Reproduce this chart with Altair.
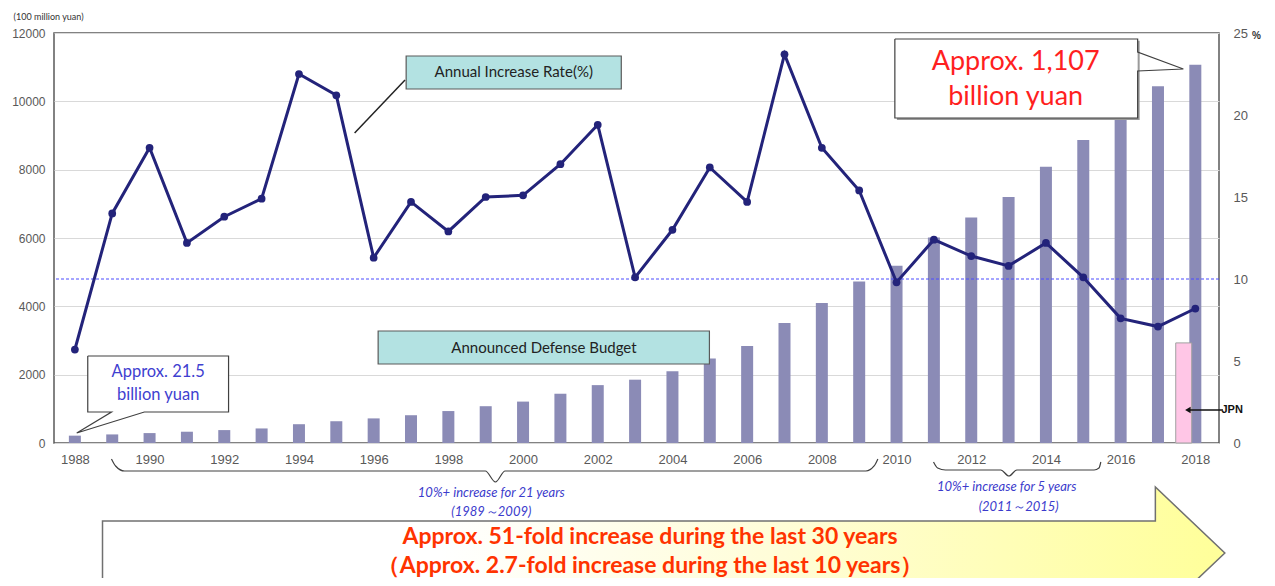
import altair as alt
import pandas as pd

# ---------------- data ----------------
years = list(range(1988, 2019))
budget = [215, 251, 290, 330, 378, 426, 550, 637, 720, 813, 935, 1077, 1212, 1442,
          1694, 1853, 2100, 2475, 2838, 3509, 4099, 4729, 5191, 6011, 6600, 7202,
          8082, 8869, 9544, 10444, 11069]
rate = [5.7, 14.0, 18.0, 12.2, 13.8, 14.9, 22.5, 21.2, 11.3, 14.7, 12.9, 15.0, 15.1,
        17.0, 19.4, 10.1, 13.0, 16.8, 14.7, 23.7, 18.0, 15.4, 9.8, 12.4, 11.4, 10.8,
        12.2, 10.1, 7.6, 7.1, 8.2]
jpn_year = [2017.69]
jpn_budget = [2930]
ref_rate = [10]
x_ticks = list(range(1988, 2019, 2))
left_ticks = [0, 2000, 4000, 6000, 8000, 10000, 12000]
right_ticks = [0, 5, 10, 15, 20, 25]

# ---------------- scales / axes ----------------
xscale = alt.Scale(domain=[1987.575, 2018.5], nice=False, zero=False)
xaxis = alt.Axis(values=x_ticks, format="d", ticks=False, grid=False, domain=False,
                 labelPadding=10, labelFontSize=13, labelColor="#595959",
                 labelFont="Liberation Sans", labelFlush=False, labelOverlap=False)
yLscale = alt.Scale(domain=[0, 12000], nice=False, zero=True)
yLaxis = alt.Axis(values=left_ticks, format="d", ticks=False, domain=False, grid=True,
                  gridColor="#d9d9d9", labelPadding=9, labelFontSize=12,
                  labelColor="#595959", labelFont="Liberation Sans")
yRscale = alt.Scale(domain=[0, 25], nice=False, zero=True)
yRaxis = alt.Axis(values=right_ticks, orient="right", ticks=False, domain=False,
                  grid=False, labelPadding=14, labelFontSize=13,
                  labelColor="#595959", labelFont="Liberation Sans")


def X(f):
    return alt.X(f"{f}:Q", scale=xscale, axis=xaxis, title=None)


def YL(f):
    return alt.Y(f"{f}:Q", scale=yLscale, axis=yLaxis, title=None)


def YR(f):
    return alt.Y(f"{f}:Q", scale=yRscale, axis=yRaxis, title=None)


bars_df = pd.DataFrame({"year": years, "budget": budget})
rate_df = pd.DataFrame({"year": years, "rate": rate})
jpn_df = pd.DataFrame({"year": jpn_year, "budget": jpn_budget})

# ---------------- annotation geometry (data units) ----------------
ANN_FONT = "Lato"

# white callout boxes
callout_rects = pd.DataFrame({
    "x": [1988.345, 2009.955], "x2": [1992.115, 2016.456],
    "y": [2546, 11824], "y2": [907, 9512],
})
shadow_rects = pd.DataFrame({
    "x": [2010.01], "x2": [2016.51], "y": [11770], "y2": [9455],
})
outline_shape = (["small"] * 8) + (["big"] * 8)
outline_x = [1988.345, 1992.115, 1992.115, 1989.86, 1988.05, 1988.98, 1988.345, 1988.345,
             2009.955, 2016.456, 2016.456, 2017.68, 2016.456, 2016.456, 2009.955, 2009.955]
outline_y = [2546, 2546, 907, 907, 293, 907, 907, 2546,
             11824, 11824, 11444, 10946, 10888, 9512, 9512, 11824]
outline_df = pd.DataFrame({"shape": outline_shape, "x": outline_x, "y": outline_y,
                           "ord": list(range(8)) + list(range(8))})

# teal label boxes
teal_df = pd.DataFrame({
    "x": [1996.87, 1996.12], "x2": [2002.63, 2004.99],
    "y": [11327, 3278], "y2": [10361, 2312],
    "tx": [1999.75, 2000.56], "ty": [10844, 2795],
    "label": ["Annual Increase Rate(%)", "Announced Defense Budget"],
})
leader_df = pd.DataFrame({"x": [1996.84], "y": [10624], "x2": [1995.49], "y2": [9073]})

# braces under the x axis
brace_id = ["a"] * 9 + ["b"] * 9
brace_x = [1988.98, 1989.09, 1989.33, 1998.99, 1999.26, 1999.52, 2009.18, 2009.40, 2009.50,
           2010.99, 2011.10, 2011.31, 2012.79, 2013.01, 2013.22, 2015.29, 2015.42, 2015.47]
brace_y = [-468, -673, -820, -820, -1141, -820, -820, -673, -468,
           -556, -732, -790, -790, -966, -790, -790, -732, -556]
brace_df = pd.DataFrame({"id": brace_id, "x": brace_x, "y": brace_y})
brace_text_df = pd.DataFrame({
    "x": [1999.15, 1999.15, 2012.95, 2013.27],
    "y": [-1463, -2020, -1288, -1873],
    "label": ["10%+ increase for 21 years", "(1989\uff5e2009)",
              "10%+ increase for 5 years", "(2011\uff5e2015)"],
})

# big arrow
arrow_area_df = pd.DataFrame({
    "x": [1988.74, 2016.93, 2016.94, 2018.79],
    "y": [-2283, -2283, -1288, -3220],
    "y2": [-4098, -4098, -5151, -3220],
})
arrow_line_df = pd.DataFrame({
    "x": [1988.74, 1988.74, 2016.93, 2016.93, 2018.79, 2016.93, 2016.93, 1988.74],
    "y": [-4098, -2283, -2283, -1288, -3220, -5151, -4098, -4098],
    "ord": list(range(8)),
})
arrow_text_df = pd.DataFrame({
    "x": [2003.40, 2003.40], "y": [-2750, -3600],
    "label": ["Approx. 51-fold increase during the last 30 years",
              "\uff08Approx. 2.7-fold increase during the last 10 years\uff09"],
})

# callout texts
small_text_df = pd.DataFrame({"x": [1990.23, 1990.23], "y": [2078, 1405],
                              "label": ["Approx. 21.5", "billion yuan"]})
big_text_df = pd.DataFrame({"x": [2013.19, 2013.19], "y": [11151, 10127],
                            "label": ["Approx. 1,107", "billion yuan"]})
unit_df = pd.DataFrame({"x": [1986.36], "y": [12468], "label": ["(100 million yuan)"]})
pct_df = pd.DataFrame({"x": [2019.64], "y": [11912], "label": ["%"]})
jpn_arrow_df = pd.DataFrame({"x": [2018.74], "x2": [2017.80], "y": [966]})
jpn_head_df = pd.DataFrame({"x": [2017.80], "y": [966]})
jpn_label_df = pd.DataFrame({"x": [2018.70], "y": [966], "label": ["JPN"]})

# ---------------- layers on the left (budget) scale ----------------
bars = alt.Chart(bars_df).mark_bar(size=12, color="#8b8bb6").encode(
    x=X("year"), y=YL("budget"))
jpn = alt.Chart(jpn_df).mark_bar(size=16, fill="#ffc6e6", stroke="#a0a0a0",
                                 strokeWidth=1).encode(x=X("year"), y=YL("budget"))

shadow = alt.Chart(shadow_rects).mark_rect(fill="#9a9a9a").encode(
    x=X("x"), x2="x2", y=YL("y"), y2="y2")
callout_fill = alt.Chart(callout_rects).mark_rect(fill="white").encode(
    x=X("x"), x2="x2", y=YL("y"), y2="y2")
callout_outline = alt.Chart(outline_df).mark_line(color="#404040", strokeWidth=1.2).encode(
    x=X("x"), y=YL("y"), detail="shape:N", order="ord:Q")

teal_box = alt.Chart(teal_df).mark_rect(fill="#b3e2e2", stroke="#5a5a5a",
                                        strokeWidth=1.2).encode(
    x=X("x"), x2="x2", y=YL("y"), y2="y2")
teal_text = alt.Chart(teal_df).mark_text(font=ANN_FONT, fontSize=15, color="#222222").encode(
    x=X("tx"), y=YL("ty"), text="label:N")
leader = alt.Chart(leader_df).mark_rule(color="#222222", strokeWidth=1.5).encode(
    x=X("x"), x2="x2", y=YL("y"), y2="y2")

braces = alt.Chart(brace_df).mark_line(color="#404040", strokeWidth=1.2,
                                       interpolate="monotone").encode(
    x=X("x"), y=YL("y"), detail="id:N")
brace_text = alt.Chart(brace_text_df).mark_text(font=ANN_FONT, fontSize=13,
                                                fontStyle="italic",
                                                color="#3b3bcc").encode(
    x=X("x"), y=YL("y"), text="label:N")

arrow_fill = alt.Chart(arrow_area_df).mark_area(
    fill=alt.Gradient(gradient="linear", x1=0, x2=1, y1=0, y2=0,
                      stops=[alt.GradientStop(color="#ffffff", offset=0),
                             alt.GradientStop(color="#ffffff", offset=0.3),
                             alt.GradientStop(color="#fffdd8", offset=0.6),
                             alt.GradientStop(color="#ffff99", offset=1)])
).encode(x=X("x"), y=YL("y"), y2="y2")
arrow_line = alt.Chart(arrow_line_df).mark_line(color="#707070", strokeWidth=1.5).encode(
    x=X("x"), y=YL("y"), order="ord:Q")
arrow_text = alt.Chart(arrow_text_df).mark_text(font=ANN_FONT, fontSize=23,
                                                fontWeight="bold",
                                                color="#ff3300").encode(
    x=X("x"), y=YL("y"), text="label:N")

small_text = alt.Chart(small_text_df).mark_text(font=ANN_FONT, fontSize=16.5,
                                                color="#3f3fd0").encode(
    x=X("x"), y=YL("y"), text="label:N")
big_text = alt.Chart(big_text_df).mark_text(font=ANN_FONT, fontSize=27,
                                            color="#ff1f1f").encode(
    x=X("x"), y=YL("y"), text="label:N")
unit_text = alt.Chart(unit_df).mark_text(font=ANN_FONT, fontSize=9, align="left",
                                         color="#333333").encode(
    x=X("x"), y=YL("y"), text="label:N")
pct_text = alt.Chart(pct_df).mark_text(font="Liberation Sans", fontSize=10,
                                       fontWeight="bold", color="#333333").encode(
    x=X("x"), y=YL("y"), text="label:N")
jpn_arrow = alt.Chart(jpn_arrow_df).mark_rule(color="#111111", strokeWidth=1.3).encode(
    x=X("x"), x2="x2", y=YL("y"))
jpn_head = alt.Chart(jpn_head_df).mark_point(shape="triangle-left", filled=True,
                                             size=40, color="#111111",
                                             opacity=1).encode(x=X("x"), y=YL("y"))
jpn_label = alt.Chart(jpn_label_df).mark_text(font="Liberation Sans", fontSize=11,
                                              fontWeight="bold", align="left",
                                              color="#111111").encode(
    x=X("x"), y=YL("y"), text="label:N")

left = alt.layer(bars, jpn, shadow, callout_fill, callout_outline, teal_box, teal_text,
                 leader, braces, brace_text, arrow_fill, arrow_line, arrow_text,
                 small_text, big_text, unit_text, pct_text, jpn_arrow, jpn_head,
                 jpn_label)

# ---------------- layers on the right (rate) scale ----------------
ref_line = alt.Chart(pd.DataFrame({"rate": ref_rate})).mark_rule(
    color="#4d4dff", strokeDash=[3, 2], strokeWidth=1.2).encode(y=YR("rate"))
rate_line = alt.Chart(rate_df).mark_line(color="#23237a", strokeWidth=3).encode(
    x=X("year"), y=YR("rate"))
rate_pts = alt.Chart(rate_df).mark_circle(color="#23237a", size=60, opacity=1).encode(
    x=X("year"), y=YR("rate"))
right = alt.layer(ref_line, rate_line, rate_pts)

chart = alt.layer(left, right).resolve_scale(y="independent").properties(
    width=1165, height=410,
    autosize=alt.AutoSizeParams(type="none"),
    padding={"left": 46, "top": 25, "right": 48, "bottom": 135},
).configure_view(stroke="#595959", strokeWidth=1.5)

chart.save("out.html", embed_options={"renderer": "svg", "actions": False})
